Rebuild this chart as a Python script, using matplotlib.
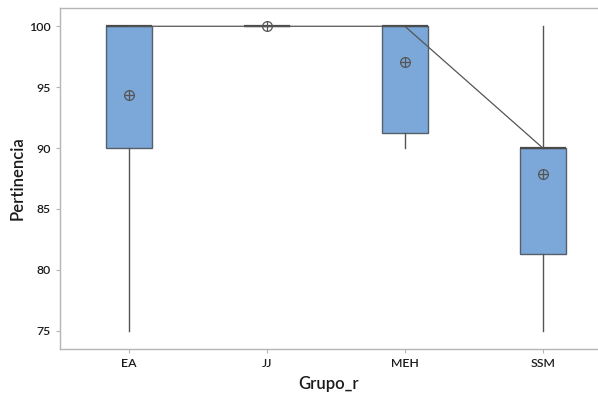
import matplotlib
matplotlib.use('Agg')
import matplotlib.pyplot as plt

# box summary per group
groups  = ['EA', 'JJ', 'MEH', 'SSM']
q1      = [90.0, 100.0, 91.2, 81.3]
medians = [100.0, 100.0, 100.0, 90.0]
q3      = [100.0, 100.0, 100.0, 90.0]
whislo  = [75.0, 100.0, 90.0, 75.0]
whishi  = [100.0, 100.0, 100.0, 100.0]
means   = [94.35, 100.0, 97.05, 87.9]
yticks  = [75, 80, 85, 90, 95, 100]

BOX_FILL = '#7BA7D9'
EDGE     = '#55606b'
LINE     = '#555555'

plt.rcParams['font.family'] = ['Lato', 'DejaVu Sans']

fig = plt.figure(figsize=(5.98, 3.94), dpi=100)
ax = fig.add_axes([60/598, 45/394, 538/598, 341/394])

pos = list(range(1, len(groups) + 1))
stats = []
for i, g in enumerate(groups):
    stats.append(dict(label=g, q1=q1[i], med=medians[i], q3=q3[i],
                      whislo=whislo[i], whishi=whishi[i], fliers=[]))

ax.bxp(stats, positions=pos, widths=0.33, patch_artist=True,
       showcaps=False, showfliers=False,
       boxprops=dict(facecolor=BOX_FILL, edgecolor=EDGE, linewidth=1.0),
       medianprops=dict(color='#4a4a4a', linewidth=1.6),
       whiskerprops=dict(color=LINE, linewidth=1.0))

# line connecting medians, drawn over the boxes
ax.plot(pos, medians, color=LINE, linewidth=0.9, zorder=4)

# mean symbols (circle with cross)
ax.plot(pos, means, linestyle='none', marker='o', markersize=7,
        markerfacecolor='none', markeredgecolor='#555555',
        markeredgewidth=0.9, zorder=5)
ax.plot(pos, means, linestyle='none', marker='+', markersize=7,
        markeredgecolor='#555555', markeredgewidth=0.9, zorder=5)

ax.set_xlim(0.5, 4.4)
ax.set_ylim(73.5, 101.5)
ax.set_yticks(yticks)
ax.set_xticks(pos)
ax.set_xticklabels(groups)

for s in ['left', 'bottom', 'top']:
    ax.spines[s].set_color('#b5b5b5')
    ax.spines[s].set_linewidth(1.0)
ax.spines['right'].set_visible(False)

ax.tick_params(axis='both', colors='#b5b5b5', length=3, width=0.8,
               labelcolor='#1a1a1a', labelsize=8.8)
for lbl in ax.get_xticklabels() + ax.get_yticklabels():
    lbl.set_fontweight('semibold')

ax.set_xlabel('Grupo_r', fontsize=12, fontweight='semibold',
              color='#1a1a1a', labelpad=5)
ax.set_ylabel('Pertinencia', fontsize=12, fontweight='semibold',
              color='#1a1a1a')
ax.yaxis.set_label_coords(-0.063, 0.5)

fig.savefig('out.png', dpi=100)
